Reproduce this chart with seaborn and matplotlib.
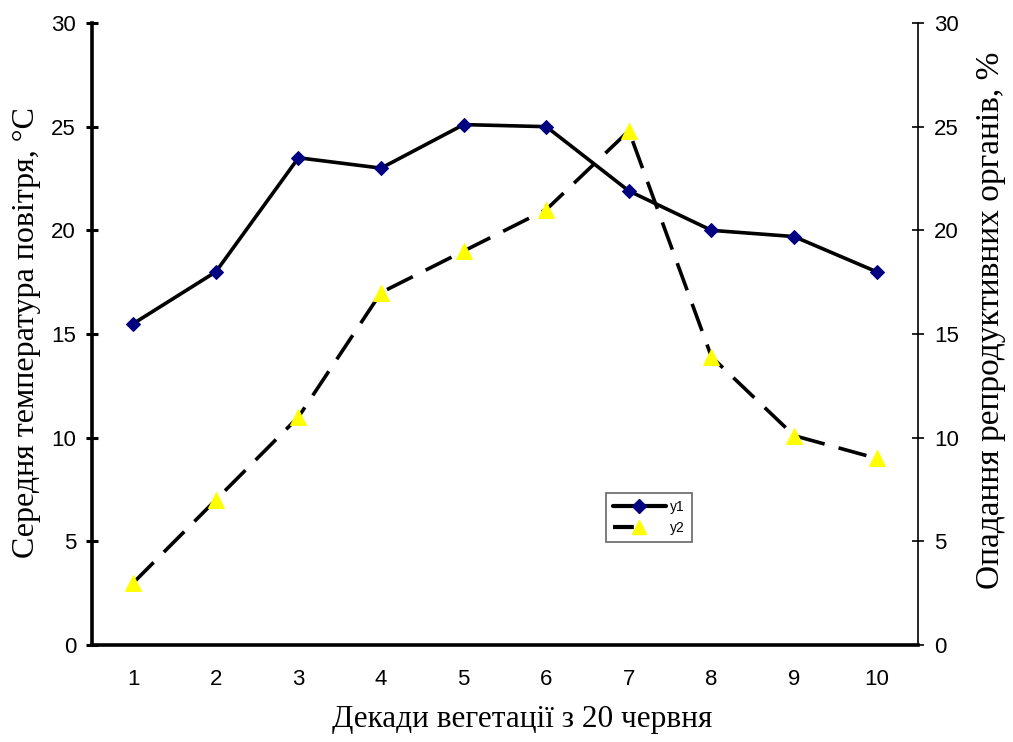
import numpy as np
import pandas as pd
import matplotlib
matplotlib.use("Agg")
import matplotlib.pyplot as plt
import seaborn as sns
from matplotlib.lines import Line2D

# Data
decades = [1, 2, 3, 4, 5, 6, 7, 8, 9, 10]
temperature = [15.5, 18.0, 23.5, 23.0, 25.1, 25.0, 21.9, 20.0, 19.7, 18.0]
drop_percent = [3.0, 7.0, 11.0, 17.0, 19.0, 21.0, 24.8, 13.9, 10.1, 9.0]
y_ticks = [0, 5, 10, 15, 20, 25, 30]

sns.set_style("white")
plt.rcParams['font.family'] = ['Liberation Sans', 'DejaVu Sans']
plt.rcParams['text.color'] = 'black'
plt.rcParams['axes.labelcolor'] = 'black'
plt.rcParams['xtick.color'] = 'black'
plt.rcParams['ytick.color'] = 'black'

df = pd.DataFrame({'decade': decades, 'y1': temperature, 'y2': drop_percent})

fig = plt.figure(figsize=(10.13, 7.42), dpi=100)
ax = fig.add_axes([0.0908, 0.1307, 0.8154, 0.8383])
ax2 = ax.twinx()

# y1 - temperature, solid line with navy diamonds
sns.lineplot(data=df, x='decade', y='y1', ax=ax, color='black', linewidth=2.6,
             marker='D', markersize=7, markerfacecolor='#000080',
             markeredgecolor='#000080', legend=False)

# y2 - dropping of organs, dashed line with yellow triangles
sns.lineplot(data=df, x='decade', y='y2', ax=ax2, color='black', linewidth=2.6,
             marker='^', markersize=11, markerfacecolor='yellow',
             markeredgecolor='yellow', legend=False)
ax2.lines[0].set_dashes([8, 4])

for a in (ax, ax2):
    a.set_ylim(0, 30)
    a.set_yticks(y_ticks)
    a.set_xlim(0.5, 10.5)
    a.tick_params(axis='y', labelsize=16, direction='inout', length=9,
                  colors='black')

ax.set_xticks(np.arange(0.5, 11, 1))
ax.set_xticklabels([])
ax.set_xticks(decades, minor=True)
ax.set_xticklabels([str(d) for d in decades], minor=True)
ax.tick_params(axis='x', which='major', direction='inout', length=10, width=2.2)
ax.tick_params(axis='x', which='minor', length=0, labelsize=16, pad=17,
               colors='black')
ax.tick_params(axis='y', width=2.2, pad=7)
ax2.tick_params(axis='y', width=1.2, pad=7, right=True)

for a in (ax, ax2):
    a.spines['top'].set_visible(False)
ax.spines['left'].set_linewidth(2.6)
ax.spines['bottom'].set_linewidth(2.6)
ax.spines['right'].set_visible(False)
ax2.spines['left'].set_visible(False)
ax2.spines['bottom'].set_visible(False)
ax2.spines['right'].set_linewidth(1.2)
ax2.spines['right'].set_color('black')
ax.spines['left'].set_color('black')
ax.spines['bottom'].set_color('black')

ax.set_xlabel('Декади вегетації з 20 червня', family='Liberation Serif',
              fontsize=22.5, color='black')
ax.xaxis.set_label_coords(0.5206, -0.097)
ax.set_ylabel('Середня температура повітря, °С', family='Liberation Serif',
              fontsize=23, color='black')
ax.yaxis.set_label_coords(-0.062, 0.503)
ax2.set_ylabel('Опадання репродуктивних органів, %', family='Liberation Serif',
               fontsize=24, color='black')
ax2.yaxis.set_label_coords(1.070, 0.522)

handles = [
    Line2D([], [], color='black', linewidth=3, marker='D', markersize=7,
           markerfacecolor='#000080', markeredgecolor='#000080'),
    Line2D([], [], color='black', linewidth=3, linestyle=(0, (5, 10)), marker='^',
           markersize=10, markerfacecolor='yellow', markeredgecolor='yellow'),
]
leg = ax2.legend(handles, ['y1', 'y2'], loc='lower left', bbox_to_anchor=(0.614, 0.155),
                 fontsize=10, frameon=True, fancybox=False, handlelength=3.8,
                 borderpad=0.5, labelspacing=0.5, handletextpad=0.3)
leg.get_frame().set_edgecolor('#404040')
leg.get_frame().set_linewidth(1.2)

fig.savefig('out.png', dpi=100)
